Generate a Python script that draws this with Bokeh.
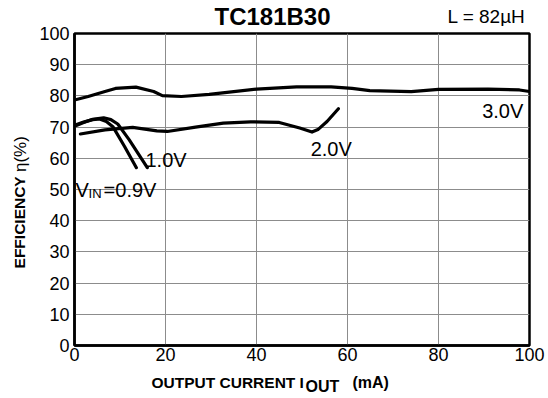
from bokeh.plotting import figure
from bokeh.models import Range1d, FixedTicker
from bokeh.layouts import column, row
from bokeh.core.properties import value
from bokeh.embed import file_html
from bokeh.resources import INLINE
import math

# ---- data ----
x_ticks = [0, 20, 40, 60, 80, 100]
y_ticks = [0, 10, 20, 30, 40, 50, 60, 70, 80, 90, 100]

v30_x = [0, 3, 6.7, 9, 13.5, 17.4, 19.3, 23.5, 29.6, 40, 48.8, 56.4, 61, 64.9, 74, 80, 90.9, 97.8, 100]
v30_y = [78.7, 79.8, 81.4, 82.4, 82.8, 81.4, 80.1, 79.8, 80.5, 82.2, 82.9, 82.9, 82.4, 81.7, 81.4, 82.1, 82.2, 81.9, 81.4]

v20_x = [1.3, 6.7, 12.8, 18.1, 20.4, 26.6, 32.7, 38.7, 45, 49.5, 52.2, 53.5, 55.5, 58]
v20_y = [67.8, 69.1, 69.9, 68.8, 68.6, 70.0, 71.3, 71.7, 71.5, 69.7, 68.4, 69.2, 71.8, 75.9]

v10_x = [0, 2, 4, 6.4, 8, 9.5, 12, 14, 16]
v10_y = [70.3, 71.5, 72.5, 73.0, 72.4, 71.0, 66.0, 61.5, 57.0]

v09_x = [0, 2, 4, 5.5, 7, 8.5, 11, 13.6]
v09_y = [70.6, 71.6, 72.4, 72.6, 71.8, 70.0, 63.8, 57.0]

FONT = "Liberation Sans"
W = 548
HEAD_H, FOOT_H = 26, 26
MID_H = 398 - HEAD_H - FOOT_H      # 346
TOP_B, BOT_B = 7, 27               # chart frame: page y 33 .. 345


def blank(width, height, x_range, y_range, **kw):
    f = figure(width=width, height=height, output_backend="svg", toolbar_location=None,
               x_range=x_range, y_range=y_range, x_axis_type=None, y_axis_type=None,
               frame_align=False, **kw)
    f.outline_line_color = None
    f.background_fill_color = "white"
    f.border_fill_color = "white"
    return f


def txt(f, x, y, t, size, style="normal", align="left", angle=0.0):
    f.text(x=[x], y=[y], text=[t], text_font=value(FONT), text_font_size=size,
           text_font_style=style, text_align=align, text_baseline="middle",
           angle=angle, text_color="black")


# ---- main chart ----
p = figure(width=518, height=MID_H, output_backend="svg", toolbar_location=None,
           x_range=Range1d(0, 100), y_range=Range1d(0, 100), frame_align=False,
           min_border_left=44, min_border_right=19, min_border_top=TOP_B, min_border_bottom=BOT_B)
p.background_fill_color = "white"
p.border_fill_color = "white"
p.outline_line_color = "black"
p.outline_line_width = 2.5

for ax in (p.xaxis[0], p.yaxis[0]):
    ax.axis_line_color = "black"
    ax.axis_line_width = 2.5
    ax.major_tick_out = 0
    ax.major_tick_in = 0
    ax.minor_tick_out = 0
    ax.minor_tick_in = 0
    ax.major_label_text_font = FONT
    ax.major_label_text_font_size = "18px"
    ax.major_label_text_color = "black"

p.xaxis[0].ticker = FixedTicker(ticks=x_ticks)
p.yaxis[0].ticker = FixedTicker(ticks=y_ticks)
p.xaxis[0].major_label_standoff = 2
p.yaxis[0].major_label_standoff = 5

p.xgrid.ticker = FixedTicker(ticks=x_ticks)
p.ygrid.ticker = FixedTicker(ticks=y_ticks)
p.grid.grid_line_color = "#8c8c8c"
p.grid.grid_line_width = 1

for xs, ys in ((v30_x, v30_y), (v20_x, v20_y), (v10_x, v10_y), (v09_x, v09_y)):
    p.line(xs, ys, line_color="black", line_width=3.2, line_join="round", line_cap="round")

txt(p, 89.6, 75.3, "3.0V", "20px")
txt(p, 51.9, 63.0, "2.0V", "20px")
txt(p, 15.6, 59.3, "1.0V", "20px")
txt(p, 0.2, 49.8, "V", "20px")
txt(p, 3.1, 48.8, "IN", "13px")
txt(p, 6.4, 49.8, "=0.9V", "20px")

# ---- header strip (page y 0..26), y measured upward from its bottom ----
head = blank(W, HEAD_H, Range1d(0, W), Range1d(0, HEAD_H), min_border=0)
txt(head, 272, HEAD_H - 16, "TC181B30", "24px", style="bold", align="center")
txt(head, 447, HEAD_H - 16, "L = 82\u00b5H", "19px")

# ---- left strip with y title, sharing the chart's vertical scale ----
left = blank(30, MID_H, Range1d(0, 30), p.y_range,
             min_border_left=0, min_border_right=0, min_border_top=TOP_B, min_border_bottom=BOT_B)
txt(left, 19, 24.7, "EFFICIENCY", "15.5px", style="bold", angle=math.pi / 2)
txt(left, 20, 55.6, "\u03b7(%)", "17px", angle=math.pi / 2)

# ---- footer strip with x title (page y 372..398) ----
foot = blank(W, FOOT_H, Range1d(0, W), Range1d(0, FOOT_H), min_border=0)
txt(foot, 151, 398 - 381.5, "OUTPUT CURRENT I", "15.5px", style="bold")
txt(foot, 305, 398 - 386, "OUT", "16px", style="bold")
txt(foot, 352, 398 - 381.5, "(mA)", "16px", style="bold")

layout = column(head, row(left, p), foot)
open("out.html", "w").write(file_html(layout, INLINE))
